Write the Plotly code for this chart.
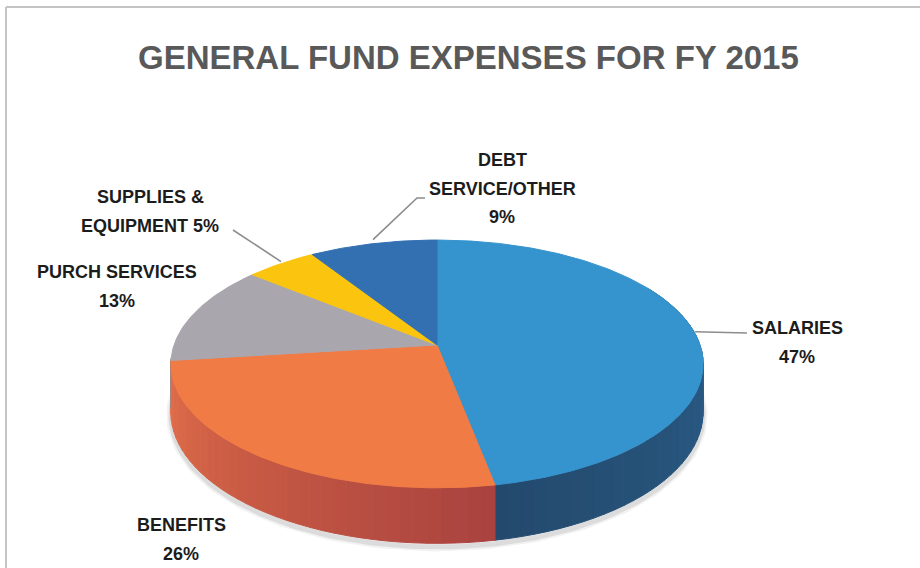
import numpy as np
import plotly.graph_objects as go

# ---- data ----
categories = ["SALARIES", "BENEFITS", "PURCH SERVICES", "SUPPLIES & EQUIPMENT", "DEBT SERVICE/OTHER"]
shares = [47, 26, 13, 5, 9]
# how each label is broken into lines; "{p}" is replaced with the share
label_lines = [
    ["SALARIES", "{p}%"],
    ["BENEFITS", "{p}%"],
    ["PURCH SERVICES", "{p}%"],
    ["SUPPLIES &", "EQUIPMENT {p}%"],
    ["DEBT", "SERVICE/OTHER", "{p}%"],
]
title_text = "GENERAL FUND EXPENSES FOR FY 2015"

# ---- styling ----
top_colors = ["#3593ce", "#f07b45", "#aaa6ae", "#fbc40f", "#3370b2"]
wall_from = ["#3370a3", "#a9423f", "#8e8a92", "#c99a05", "#27558c"]
wall_to = ["#234a6d", "#e3704a", "#9a969e", "#d9a70a", "#2b5e99"]
label_pos = [(797, 328), (181, 525), (117, 272), (150, 197), (502, 160)]
label_anchor = [(747, 333), None, None, (233, 230), (417, 198)]
LINE_GAP = 28.5

# projected disc geometry (pixel units)
CX, CY, R, RV, K, H = 437, 345, 263, 121, 0.153, 47


def proj(theta_deg, drop=0.0):
    t = np.radians(theta_deg)
    X, Z = np.sin(t), np.cos(t)
    d = 1 + K * Z
    return CX + R * X / d, CY - RV * Z / d + drop / d


def mix(c1, c2, f):
    a = [int(c1[i:i + 2], 16) for i in (1, 3, 5)]
    b = [int(c2[i:i + 2], 16) for i in (1, 3, 5)]
    return "rgb({},{},{})".format(*[round(a[j] + (b[j] - a[j]) * f) for j in range(3)])


fig = go.Figure()

# slice angle ranges, clockwise from 12 o'clock
total = sum(shares)
bounds = np.concatenate([[0], np.cumsum(shares)]) / total * 360.0

# soft shadow under the front rim
ts = np.linspace(70, 290, 200)
for w, a in ((9, 0.08), (5, 0.14)):
    sx, sy = proj(ts, H + 3)
    fig.add_trace(go.Scatter(x=sx, y=sy, mode="lines", line=dict(color=f"rgba(90,90,90,{a})", width=w),
                             hoverinfo="skip", showlegend=False))

# side walls (front half only)
for i in range(len(shares)):
    a, b = bounds[i], bounds[i + 1]
    lo, hi = max(a, 60), min(b, 264)
    if hi <= lo:
        continue
    steps = np.linspace(lo, hi, max(2, int((hi - lo) / 2.5) + 1))
    for t0, t1 in zip(steps[:-1], steps[1:]):
        f = ((t0 + t1) / 2 - a) / (b - a)
        col = mix(wall_from[i], wall_to[i], f)
        x0, y0 = proj(t0)
        x1, y1 = proj(t1)
        x2, y2 = proj(t1, H)
        x3, y3 = proj(t0, H)
        fig.add_trace(go.Scatter(x=[x0, x1, x2, x3, x0], y=[y0, y1, y2, y3, y0], mode="lines",
                                 fill="toself", fillcolor=col, line=dict(color=col, width=1),
                                 hoverinfo="skip", showlegend=False))

# top faces
for i in range(len(shares)):
    a, b = bounds[i], bounds[i + 1]
    arc = np.linspace(a, b, max(3, int((b - a) / 0.5)))
    ax, ay = proj(arc)
    xs = np.concatenate([[CX], ax, [CX]])
    ys = np.concatenate([[CY], ay, [CY]])
    fig.add_trace(go.Scatter(x=xs, y=ys, mode="lines", fill="toself", fillcolor=top_colors[i],
                             line=dict(color=top_colors[i], width=1), name=categories[i],
                             hoverinfo="name", showlegend=False))

# leader lines from slice rim to label
for i in range(len(shares)):
    if label_anchor[i] is None:
        continue
    mid = (bounds[i] + bounds[i + 1]) / 2
    rx, ry = proj(mid)
    tx, ty = label_anchor[i]
    if categories[i].startswith("DEBT"):
        xs, ys = [rx, tx, tx + 8], [ry - 4, ty, ty]
    else:
        xs, ys = [rx, tx], [ry - 2, ty]
    fig.add_trace(go.Scatter(x=xs, y=ys, mode="lines", line=dict(color="#8c8c8c", width=1.6),
                             hoverinfo="skip", showlegend=False))

annotations = [dict(x=468, y=57, text=title_text, showarrow=False, xanchor="center", yanchor="middle",
                    font=dict(family="Liberation Sans, Arial, sans-serif", size=33, color="#595959",
                              weight="bold"))]
for i, lines in enumerate(label_lines):
    lx, ly = label_pos[i]
    for j, ln in enumerate(lines):
        annotations.append(dict(x=lx, y=ly + j * LINE_GAP, text=ln.format(p=shares[i]), showarrow=False,
                                xanchor="center", yanchor="middle",
                                font=dict(family="Liberation Sans, Arial, sans-serif", size=18,
                                          color="#1c1c1c", weight="bold")))

fig.update_layout(
    width=920, height=568, autosize=False,
    margin=dict(l=0, r=0, t=0, b=0),
    paper_bgcolor="white", plot_bgcolor="white",
    xaxis=dict(range=[0, 920], visible=False, fixedrange=True),
    yaxis=dict(range=[568, 0], visible=False, fixedrange=True),
    annotations=annotations,
    shapes=[
        dict(type="line", xref="paper", yref="paper", x0=6 / 920, x1=1, y0=1 - 7 / 568, y1=1 - 7 / 568,
             line=dict(color="#c4c4c4", width=2), layer="below"),
        dict(type="line", xref="paper", yref="paper", x0=6 / 920, x1=6 / 920, y0=0, y1=1 - 7 / 568,
             line=dict(color="#c4c4c4", width=2), layer="below"),
    ],
)

fig.write_html("out.html")
